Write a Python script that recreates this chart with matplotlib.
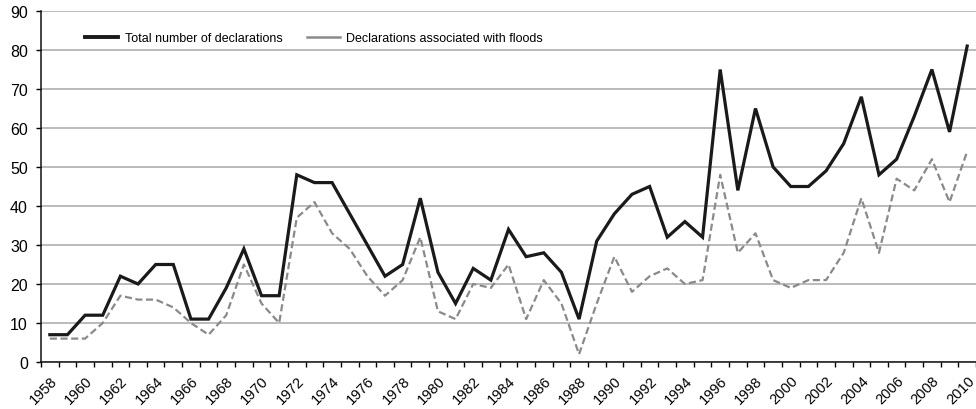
import matplotlib
matplotlib.use("Agg")
import matplotlib.pyplot as plt
from matplotlib.lines import Line2D
import numpy as np

plt.rcParams['font.family'] = ['Liberation Sans', 'DejaVu Sans']

years = list(range(1958, 2011))
total = [7, 7, 12, 12, 22, 20, 25, 25, 11, 11, 19, 29, 17, 17, 48, 46, 46, 38, 30, 22,
         25, 42, 23, 15, 24, 21, 34, 27, 28, 23, 11, 31, 38, 43, 45, 32, 36, 32, 75, 44,
         65, 50, 45, 45, 49, 56, 68, 48, 52, 63, 75, 59, 81]
floods = [6, 6, 6, 10, 17, 16, 16, 14, 10, 7, 12, 25, 15, 10, 37, 41, 33, 29, 22, 17,
          21, 32, 13, 11, 20, 19, 25, 11, 21, 15, 2, 15, 27, 18, 22, 24, 20, 21, 48, 28,
          33, 21, 19, 21, 21, 28, 42, 28, 47, 44, 52, 41, 54]
series_labels = ["Total number of declarations", "Declarations associated with floods"]
y_ticks = list(range(0, 91, 10))

W, H = 976, 410
fig = plt.figure(figsize=(W / 100, H / 100), dpi=100)
ax = fig.add_axes([41 / W, 47 / H, 935 / W, 351 / H])

x = np.arange(len(years))
ax.plot(x, floods, color='#8a8a8a', lw=1.6, ls=(0, (3.2, 1.6)), zorder=3)
ax.plot(x, total, color='#1a1a1a', lw=2.3, zorder=4, solid_joinstyle='miter')

ax.set_xlim(-0.5, len(years) - 0.5)
ax.set_ylim(0, 90)
ax.set_yticks(y_ticks)
ax.yaxis.grid(True, color='#a8a8a8', lw=1.1)
ax.set_axisbelow(True)

ax.set_xticks(x[::2])
ax.set_xticklabels([str(y) for y in years[::2]], rotation=45, ha='right',
                   va='top', rotation_mode='anchor', fontsize=10.5)
ax.set_xticks(np.arange(-0.5, len(years)), minor=True)
ax.tick_params(axis='x', which='major', length=0, pad=8)
ax.tick_params(axis='x', which='minor', length=3.5, width=1, direction='out')
ax.tick_params(axis='y', length=3.5, width=1, labelsize=11.5, pad=6)

for s in ['top', 'right']:
    ax.spines[s].set_visible(False)
for s in ['left', 'bottom']:
    ax.spines[s].set_linewidth(1.1)
    ax.spines[s].set_color('#111111')

handles = [Line2D([], [], color='#1a1a1a', lw=2.8),
           Line2D([], [], color='#8a8a8a', lw=1.8)]
fig.legend(handles, series_labels, ncol=2, frameon=False, fontsize=9,
           loc='center left', bbox_to_anchor=(85 / W, 1 - 39 / H),
           bbox_transform=fig.transFigure, borderpad=0, borderaxespad=0,
           handlelength=2.64, handletextpad=0.56, columnspacing=1.9)

fig.savefig("out.png", dpi=100)
